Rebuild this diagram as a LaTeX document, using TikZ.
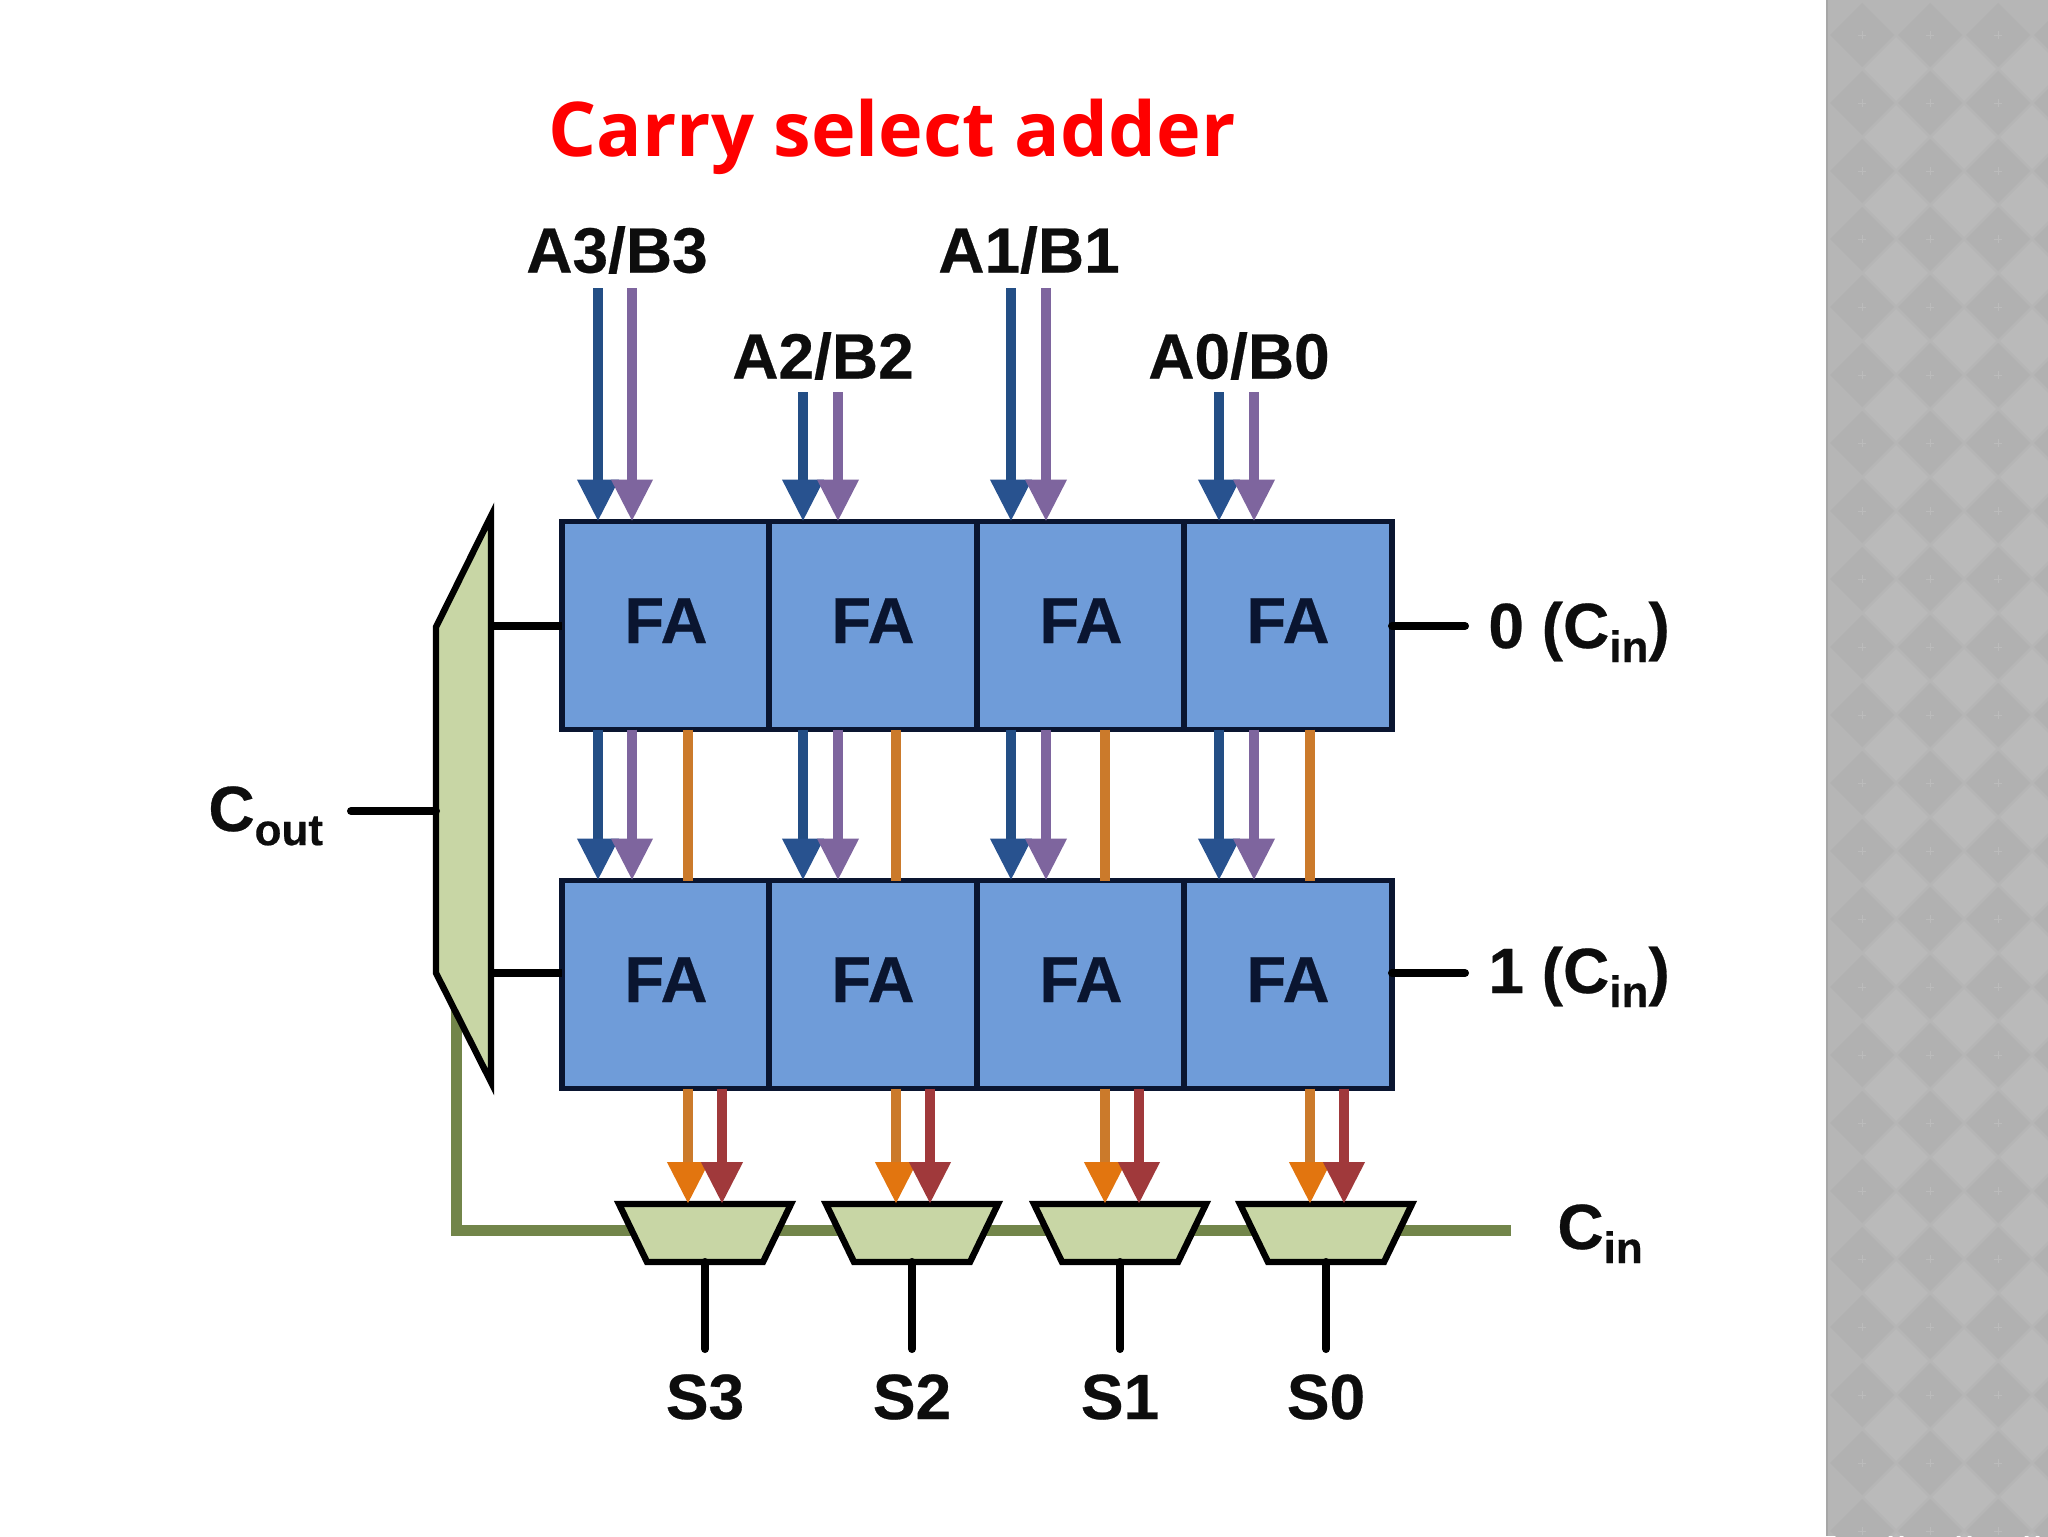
\documentclass[tikz,border=0pt]{standalone}
\usepackage{fontspec}
\setmainfont[BoldFeatures={FakeBold=0.4}]{Liberation Sans}
\newfontfamily\titlefont{Open Sans}
\usetikzlibrary{arrows.meta}
\definecolor{panelbase}{HTML}{B6B6B6}
\definecolor{paneldark}{HTML}{B1B1B1}
\definecolor{panellight}{HTML}{BABABA}
\definecolor{panelmark}{HTML}{BBBBBB}
\definecolor{fablue}{HTML}{6F9CD9}
\definecolor{faline}{HTML}{0A1530}
\definecolor{muxfill}{HTML}{C8D6A5}
\definecolor{busgreen}{HTML}{72854A}
\definecolor{wblue}{HTML}{234E85}
\definecolor{hblue}{HTML}{28528F}
\definecolor{wpurple}{HTML}{7E659E}
\definecolor{horange}{HTML}{E2750F}
\definecolor{worange}{HTML}{CB7A2B}
\definecolor{wred}{HTML}{A0393B}
\newcommand{\subt}[1]{\raisebox{-.22em}{\fontsize{22}{22}\selectfont #1}}
\tikzset{
  x=0.5pt,y=-0.5pt,
  fabox/.style={draw=faline,fill=fablue,line width=2.7pt,minimum width=104pt,minimum height=104pt,inner sep=0pt,outer sep=0pt,font=\fontsize{32.5}{32.5}\selectfont\bfseries,text=faline},
  lab/.style={font=\fontsize{32}{32}\selectfont\bfseries,text=black!95,inner sep=0pt},
  wire/.style={line width=5pt},
  head/.style={-{Triangle[length=21pt,width=19.5pt,color=#1]}},
  muxshape/.style={draw=black,fill=muxfill,line width=3.2pt,miter limit=20},
  blk/.style={draw=black,line width=4pt},
}
\begin{document}
\begin{tikzpicture}
\useasboundingbox (0,0) rectangle (2048,1536);
\fill[white] (0,0) rectangle (2048,1536);
% side panel
\begin{scope}
\clip (1826,0) rectangle (2048,1536);
\fill[panelbase] (1826,0) rectangle (2048,1536);
\foreach \i in {0,...,3}{\foreach \j in {0,...,23}{
  \pgfmathsetmacro{\cx}{1862+\i*68}
  \pgfmathsetmacro{\cy}{35+\j*68}
  \fill[paneldark] (\cx-32,\cy) -- (\cx,\cy-32) -- (\cx+32,\cy) -- (\cx,\cy+32) -- cycle;
  \fill[panellight] (\cx+2,\cy+34) -- (\cx+34,\cy+2) -- (\cx+66,\cy+34) -- (\cx+34,\cy+66) -- cycle;
  \draw[panelmark,line width=0.4pt] (\cx-4,\cy) -- (\cx+4,\cy) (\cx,\cy-4) -- (\cx,\cy+4);
}}
\end{scope}
\fill[black!35] (1826,0) rectangle (1827.5,1536);
% title
\node[inner sep=0pt,text=red] (title) at (892,137) {\titlefont\fontsize{37.8}{37.8}\selectfont\bfseries Carry select adder};
% anchors for columns
\coordinate (bA) at (598,288); \coordinate (pA) at (632,288);
\coordinate (bB) at (803,392); \coordinate (pB) at (838,392);
\coordinate (bC) at (1011,288); \coordinate (pC) at (1046,288);
\coordinate (bD) at (1219,392); \coordinate (pD) at (1254,392);
\coordinate (oA) at (688,1100); \coordinate (rA) at (722,1100);
\coordinate (oB) at (896,1100); \coordinate (rB) at (930,1100);
\coordinate (oC) at (1105,1100); \coordinate (rC) at (1139,1100);
\coordinate (oD) at (1310,1100); \coordinate (rD) at (1344,1100);
% bus
\coordinate (busA) at (456,1010);
\coordinate (busB) at (456,1230);
\coordinate (busC) at (1511,1230);
\draw[busgreen,line width=5.5pt,line join=miter] (busA) -- (busB) -- (busC);
% adder boxes (label raised a little above the box centre)
\foreach \c/\x in {A/666,B/873,C/1081,D/1288}{
  \node[fabox,text height=26pt,text depth=8.5pt] (u\c) at (\x,625.5) {FA};
  \node[fabox,text height=26pt,text depth=8.5pt] (l\c) at (\x,984.5) {FA};
}
% arrows
\foreach \c in {A,B,C,D}{
  \draw[wblue,wire,head=hblue] (b\c) -- (b\c |- u\c.north);
  \draw[wpurple,wire,head=wpurple] (p\c) -- (p\c |- u\c.north);
  \draw[wblue,wire,head=hblue] (b\c |- u\c.south) -- (b\c |- l\c.north);
  \draw[wpurple,wire,head=wpurple] (p\c |- u\c.south) -- (p\c |- l\c.north);
  \draw[worange,wire] (o\c |- u\c.south) -- (o\c |- l\c.north);
}
% small muxes
\foreach \c/\x in {A/705,B/912,C/1120,D/1326}{
  \coordinate (mt\c) at (\x,1204);
  \coordinate (mb\c) at (\x,1262);
  \coordinate (s\c) at (\x,1349);
  \draw[muxshape] (\x-86,1204) -- (\x+86,1204) -- (\x+58,1262) -- (\x-58,1262) -- cycle;
  \draw[blk,line cap=round] (mb\c) -- (s\c);
  \draw[worange,wire,head=horange] (o\c |- l\c.south) -- (o\c |- mt\c);
  \draw[wred,wire,head=wred] (r\c |- l\c.south) -- (r\c |- mt\c);
}
% big mux
\coordinate (muxU) at (491,626);
\coordinate (muxL) at (491,973);
\coordinate (muxO) at (436,811);
\draw[muxshape] (491,516) -- (491,1082) -- (436,973) -- (436,627) -- cycle;
\draw[blk] (muxU) -- (uA.west |- muxU);
\draw[blk] (muxL) -- (lA.west |- muxL);
\coordinate (coutEnd) at (351,811);
\draw[blk,line cap=round] (coutEnd) -- (muxO);
\coordinate (c0) at (1465,626);
\coordinate (c1) at (1465,973);
\draw[blk,line cap=round] (uD.east |- c0) -- (c0);
\draw[blk,line cap=round] (lD.east |- c1) -- (c1);
% labels
\node[lab] (tA) at (617,250) {A3/B3};
\node[lab] (tB) at (823,356) {A2/B2};
\node[lab] (tC) at (1029,250) {A1/B1};
\node[lab] (tD) at (1239,356) {A0/B0};
\node[lab] (sA) at (705,1397) {S3};
\node[lab] (sB) at (912,1397) {S2};
\node[lab] (sC) at (1120,1397) {S1};
\node[lab] (sD) at (1326,1397) {S0};
\node[lab,anchor=base west] (l0) at (1488,648) {0 (C\subt{in})};
\node[lab,anchor=base west] (l1) at (1488,993) {1 (C\subt{in})};
\node[lab,anchor=base west] (lc) at (1557,1249) {C\subt{in}};
\node[lab,anchor=base west] (lo) at (208,831) {C\subt{out}};
\end{tikzpicture}
\end{document}
